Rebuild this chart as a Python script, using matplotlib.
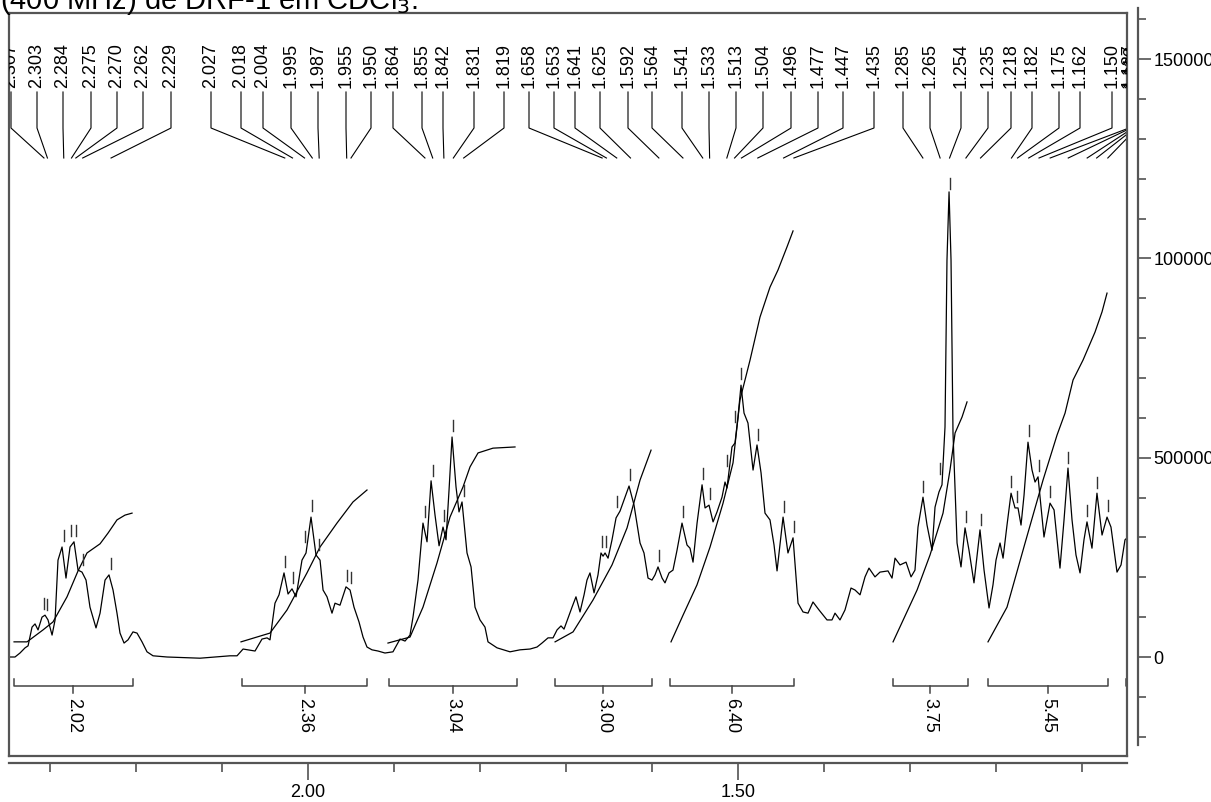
import numpy as np
import matplotlib
matplotlib.use("Agg")
import matplotlib.pyplot as plt
from matplotlib.transforms import blended_transform_factory

plt.rcParams['font.family'] = ['Liberation Sans', 'DejaVu Sans']

####################################################################
# data (chemical shift in ppm, intensity x1000)
####################################################################
shift = [2.3465, 2.3407, 2.3349, 2.3290, 2.3255, 2.3209, 2.3174, 2.3139, 2.3093, 2.3058,
         2.3023, 2.2976, 2.2941, 2.2907, 2.2860, 2.2814, 2.2767, 2.2721, 2.2674, 2.2628,
         2.2581, 2.2535, 2.2465, 2.2418, 2.2360, 2.2314, 2.2267, 2.2221, 2.2186, 2.2139,
         2.2093, 2.2035, 2.1988, 2.1930, 2.1872, 2.1802, 2.1639, 2.1256, 2.0907, 2.0825,
         2.0755, 2.0697, 2.0616, 2.0535, 2.0476, 2.0442, 2.0384, 2.0337, 2.0279, 2.0232,
         2.0186, 2.0139, 2.0070, 2.0023, 1.9965, 1.9907, 1.9860, 1.9825, 1.9779, 1.9721,
         1.9686, 1.9628, 1.9558, 1.9511, 1.9465, 1.9407, 1.9360, 1.9314, 1.9256, 1.9186,
         1.9105, 1.9012, 1.8930, 1.8872, 1.8814, 1.8779, 1.8721, 1.8663, 1.8616, 1.8569,
         1.8523, 1.8476, 1.8430, 1.8395, 1.8360, 1.8325, 1.8279, 1.8244, 1.8209, 1.8151,
         1.8104, 1.8058, 1.8000, 1.7942, 1.7907, 1.7802, 1.7651, 1.7535, 1.7418, 1.7337,
         1.7279, 1.7209, 1.7151, 1.7104, 1.7058, 1.7023, 1.6976, 1.6930, 1.6884, 1.6837,
         1.6790, 1.6756, 1.6721, 1.6674, 1.6628, 1.6593, 1.6569, 1.6546, 1.6511, 1.6465,
         1.6418, 1.6372, 1.6267, 1.6209, 1.6139, 1.6093, 1.6046, 1.6000, 1.5965, 1.5930,
         1.5883, 1.5849, 1.5802, 1.5756, 1.5709, 1.5651, 1.5593, 1.5558, 1.5523, 1.5476,
         1.5418, 1.5383, 1.5337, 1.5290, 1.5244, 1.5186, 1.5151, 1.5128, 1.5070, 1.5035,
         1.5000, 1.4965, 1.4930, 1.4884, 1.4825, 1.4779, 1.4732, 1.4686, 1.4628, 1.4581,
         1.4546, 1.4476, 1.4419, 1.4360, 1.4302, 1.4244, 1.4186, 1.4128, 1.4058, 1.3965,
         1.3907, 1.3872, 1.3814, 1.3756, 1.3686, 1.3639, 1.3581, 1.3523, 1.3477, 1.3407,
         1.3349, 1.3256, 1.3209, 1.3174, 1.3116, 1.3046, 1.2988, 1.2942, 1.2907, 1.2849,
         1.2802, 1.2744, 1.2709, 1.2663, 1.2628, 1.2593, 1.2570, 1.2546, 1.2523, 1.2500,
         1.2453, 1.2407, 1.2360, 1.2314, 1.2256, 1.2186, 1.2139, 1.2081, 1.2035, 1.2000,
         1.1953, 1.1918, 1.1872, 1.1825, 1.1779, 1.1744, 1.1709, 1.1674, 1.1628, 1.1581,
         1.1546, 1.1511, 1.1442, 1.1372, 1.1325, 1.1256, 1.1209, 1.1163, 1.1116, 1.1070,
         1.1023, 1.0977, 1.0942, 1.0884, 1.0826, 1.0767, 1.0709, 1.0663, 1.0593, 1.0546,
         1.0500, 1.0442]
intensity_k = [0, 0, 10, 23, 28, 75, 83, 68, 100, 105,
               93, 55, 93, 243, 276, 198, 276, 289, 218, 213,
               193, 125, 73, 110, 193, 206, 168, 110, 60, 35,
               43, 63, 60, 38, 13, 3, 0, -3, 3, 3,
               20, 18, 15, 45, 48, 43, 135, 156, 211, 158,
               171, 151, 243, 261, 351, 256, 243, 168, 151, 110,
               135, 130, 176, 168, 125, 88, 50, 25, 18, 15,
               10, 13, 45, 40, 55, 100, 193, 336, 289, 442,
               356, 279, 326, 294, 419, 552, 427, 364, 389, 261,
               226, 125, 93, 75, 38, 23, 13, 18, 20, 25,
               35, 48, 48, 68, 78, 70, 98, 125, 151, 113,
               156, 193, 211, 161, 206, 261, 253, 261, 248, 294,
               349, 366, 429, 381, 286, 261, 198, 193, 206, 226,
               198, 186, 211, 218, 268, 336, 281, 273, 238, 336,
               432, 374, 381, 339, 364, 401, 439, 424, 527, 537,
               602, 682, 612, 587, 469, 532, 462, 361, 344, 281,
               216, 351, 261, 299, 135, 113, 110, 138, 118, 93,
               93, 110, 93, 118, 173, 168, 156, 201, 223, 201,
               213, 216, 198, 248, 231, 238, 201, 218, 326, 401,
               331, 268, 376, 414, 432, 577, 996, 1167, 996, 562,
               286, 226, 324, 268, 186, 319, 218, 123, 181, 243,
               286, 248, 331, 411, 374, 374, 331, 406, 539, 469,
               439, 452, 301, 386, 369, 223, 344, 474, 344, 256,
               211, 294, 339, 273, 411, 306, 351, 326, 213, 231,
               294, 306]

# integral curves
integral_ppm = [
    [2.3418, 2.3267, 2.3081, 2.2965, 2.2802, 2.2674, 2.2570, 2.2418, 2.2325, 2.2221, 2.2128, 2.2046],
    [2.0779, 2.0442, 2.0244, 2.0012, 1.9860, 1.9663, 1.9477, 1.9314],
    [1.9070, 1.8814, 1.8663, 1.8500, 1.8349, 1.8197, 1.8116, 1.8023, 1.7849, 1.7593],
    [1.7127, 1.6918, 1.6686, 1.6465, 1.6290, 1.6139, 1.6011],
    [1.5779, 1.5639, 1.5477, 1.5325, 1.5174, 1.5058, 1.4977, 1.4860, 1.4744, 1.4628, 1.4535, 1.4430, 1.4360],
    [1.3197, 1.2918, 1.2767, 1.2616, 1.2535, 1.2476, 1.2395, 1.2337],
    [1.2093, 1.1872, 1.1662, 1.1453, 1.1290, 1.1197, 1.1104, 1.0988, 1.0849, 1.0767, 1.0709],
]
integral_k = [
    [38, 38, 68, 88, 151, 216, 261, 284, 311, 344, 356, 361],
    [38, 60, 118, 211, 276, 336, 389, 419],
    [35, 50, 125, 236, 351, 427, 477, 512, 524, 527],
    [38, 63, 143, 231, 324, 444, 519],
    [38, 105, 181, 276, 386, 487, 645, 745, 853, 928, 971, 1029, 1069],
    [38, 168, 256, 361, 469, 562, 602, 640],
    [38, 125, 286, 444, 557, 612, 695, 745, 815, 866, 913],
]

# integration ranges and values
region_start = [2.342, 2.077, 1.906, 1.713, 1.579, 1.320, 1.209, 1.049]
region_end = [2.2035, 1.931, 1.757, 1.600, 1.435, 1.233, 1.070, 0.95]
region_value = ['2.02', '2.36', '3.04', '3.00', '6.40', '3.75', '5.45', '']

# peak picking
peaks = [2.307, 2.303, 2.284, 2.275, 2.270, 2.262, 2.229,
         2.027, 2.018, 2.004, 1.995, 1.987, 1.955, 1.950,
         1.864, 1.855, 1.842, 1.831, 1.819,
         1.658, 1.653, 1.641, 1.625, 1.592,
         1.564, 1.541, 1.533, 1.513, 1.504, 1.496, 1.477, 1.447, 1.435,
         1.285, 1.265, 1.254, 1.235, 1.218,
         1.182, 1.175, 1.162, 1.150,
         1.137, 1.116, 1.094, 1.083, 1.070]

# where the peak labels sit across the top (pixels from image left)
label_col_px = [11, 37, 63, 91, 117, 143, 171,
                211, 241, 263, 291, 318, 346, 371,
                393, 422, 443, 474, 504,
                529, 554, 575, 600, 628,
                652, 682, 709, 736, 763, 791, 818, 843, 874,
                903, 930, 961, 988, 1011,
                1032, 1059, 1080, 1112,
                1129, 1131, 1133, 1135, 1137]

####################################################################
# layout
####################################################################
W, H = 1211, 802
PX_PER_PPM = 860.0
PPM_AT_X0 = 2.0 + 308 / PX_PER_PPM
ZERO_Y = 657
INT_PER_PX = 2509.0
BOX = (9, 13, 1127, 756)  # left, top, right, bottom in pixels
FS = 13

def px_to_ppm(x):
    return PPM_AT_X0 - x / PX_PER_PPM

def py_to_int(y):
    return (ZERO_Y - y) * INT_PER_PX

def main():
    fig = plt.figure(figsize=(W / 100, H / 100), dpi=100)
    l, t, r, b = BOX
    ax = fig.add_axes([l / W, 1 - b / H, (r - l) / W, (b - t) / H])
    ax.set_xlim(px_to_ppm(l), px_to_ppm(r))
    ax.set_ylim(py_to_int(b), py_to_int(t))
    ax.set_xticks([])
    ax.set_yticks([])
    for s in ax.spines.values():
        s.set_color('#555555')
        s.set_linewidth(1.6)

    x = np.array(shift)
    y = np.array(intensity_k) * 1000.0
    ax.plot(x, y, color='black', lw=0.9)

    for p, v in zip(integral_ppm, integral_k):
        ax.plot(p, np.array(v) * 1000.0, color='black', lw=0.9)

    # peak marks above each picked peak
    order = np.argsort(x)
    xs, ys = x[order], y[order]
    for pk in peaks:
        win = np.linspace(pk - 0.0025, pk + 0.0025, 21)
        top = np.interp(win, xs, ys).max()
        ax.plot([pk, pk], [top + 6 * INT_PER_PX, top + 17 * INT_PER_PX],
                color='#333333', lw=1.0, clip_on=True)

    # peak labels + connectors
    tr = blended_transform_factory(ax.transData, ax.transAxes)
    def fy(py):
        return (b - py) / (b - t)
    for pk, col in zip(peaks, label_col_px):
        cx = px_to_ppm(col)
        ax.text(cx, fy(88), '%.3f' % pk, rotation=90, ha='center', va='bottom',
                fontsize=FS, transform=tr, clip_on=True)
        ax.plot([cx, cx, pk], [fy(92), fy(128), fy(158)], color='black',
                lw=0.8, transform=tr, clip_on=True)

    # integration brackets
    for s0, s1, val in zip(region_start, region_end, region_value):
        mid = (s0 + s1) / 2
        ax.plot([s0, s0, s1, s1], [fy(679), fy(686), fy(686), fy(679)],
                color='#444444', lw=1.1, transform=tr, clip_on=True)
        ax.plot([mid, mid], [fy(686), fy(693)], color='#444444', lw=1.1,
                transform=tr, clip_on=True)
        ax.text(mid, fy(698), val, rotation=270, ha='center', va='top',
                fontsize=FS, transform=tr, clip_on=True)

    # ppm axis under the box
    axb = fig.add_axes([l / W, 1 - 763 / H, (r - l) / W, 0.0001])
    axb.set_xlim(px_to_ppm(l), px_to_ppm(r))
    axb.patch.set_visible(False)
    for s in ['top', 'left', 'right']:
        axb.spines[s].set_visible(False)
    axb.spines['bottom'].set_color('#555555')
    axb.spines['bottom'].set_linewidth(1.6)
    axb.set_yticks([])
    axb.set_xticks([2.0, 1.5])
    axb.set_xticklabels(['2.00', '1.50'])
    axb.set_xticks([2.3, 2.2, 2.1, 1.9, 1.8, 1.7, 1.6, 1.4, 1.3, 1.2, 1.1], minor=True)
    axb.tick_params(which='major', length=12, width=1.1, color='#444444',
                    labelsize=FS, pad=3)
    axb.tick_params(which='minor', length=6.5, width=1.1, color='#444444')

    # intensity axis on the right
    rt, rb, rx = 8, 745, 1138
    axr = fig.add_axes([(rx - 12) / W, 1 - rb / H, 12 / W, (rb - rt) / H])
    axr.set_ylim(py_to_int(rb), py_to_int(rt))
    axr.patch.set_visible(False)
    for s in ['top', 'left', 'bottom']:
        axr.spines[s].set_visible(False)
    axr.spines['right'].set_color('#555555')
    axr.spines['right'].set_linewidth(1.6)
    axr.set_xticks([])
    axr.yaxis.tick_right()
    axr.set_yticks([0, 500000, 1000000, 1500000])
    axr.set_yticklabels(['0', '500000', '1000000', '1500000'])
    axr.set_yticks([v * 100000 for v in range(-2, 17) if v % 5 != 0], minor=True)
    axr.tick_params(which='major', length=9, width=1.1, color='#444444',
                    labelsize=FS, pad=2)
    axr.tick_params(which='minor', length=6, width=1.1, color='#444444')

    fig.text(0.0, 1 - 9 / H, '(400 MHz) de DRF-1 em CDCl$_3$.', fontsize=21,
             ha='left', va='baseline')

    fig.savefig('out.png', dpi=100)


if __name__ == "__main__":
    main()
